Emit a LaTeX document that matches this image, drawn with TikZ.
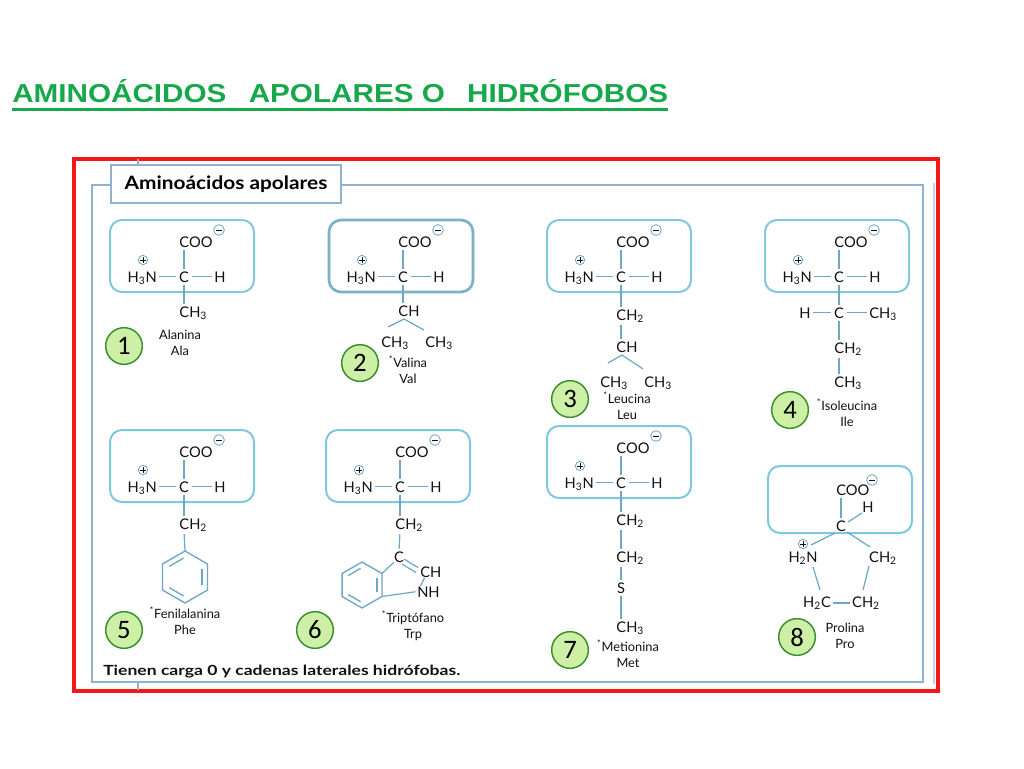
\documentclass[tikz,border=0pt]{standalone}
\usepackage{fontspec}
\setmainfont{Lato}
\newfontfamily\titlefont{Liberation Sans}
\newfontfamily\numfont{Carlito}
\definecolor{redf}{HTML}{F21818}
\definecolor{framec}{HTML}{8EB2D0}
\definecolor{boxc}{HTML}{80C8DF}
\definecolor{bondc}{HTML}{6EA6C6}
\definecolor{txt}{HTML}{111111}
\definecolor{titlec}{HTML}{17A84B}
\definecolor{numfill}{HTML}{CDEFA6}
\definecolor{numdraw}{HTML}{3A8F2E}
\tikzset{
  chem/.style={inner sep=0pt, text=txt, font=\fontsize{11}{12}\selectfont},
  bond/.style={draw=bondc, line width=0.9pt, shorten <=1.8pt, shorten >=1.8pt},
  bondx/.style={draw=bondc, line width=0.9pt},
  ring/.style={draw=bondc, line width=1pt, line join=round},
  ringin/.style={draw=bondc, line width=1pt, shorten <=1.2pt, shorten >=1.2pt},
  aabox/.style={draw=boxc, line width=1.5pt, rounded corners=9pt},
  numc/.style={circle, draw=numdraw, fill=numfill, line width=1.1pt, minimum size=27.5pt, inner sep=0pt, font=\numfont\fontsize{20}{20}\selectfont, text=black},
  aaname/.style={anchor=base, inner sep=0pt, text=txt, font=\fontsize{9.6}{11}\selectfont},
  chgm/.style={circle, draw=bondc, line width=0.6pt, minimum size=8pt, inner sep=0pt,
    path picture={\draw[txt, line width=0.6pt] ([xshift=1.8pt]path picture bounding box.west) -- ([xshift=-1.8pt]path picture bounding box.east);}},
  chgp/.style={circle, draw=bondc, line width=0.6pt, minimum size=7pt, inner sep=0pt,
    path picture={\draw[txt, line width=0.6pt] ([xshift=1.6pt]path picture bounding box.west) -- ([xshift=-1.6pt]path picture bounding box.east);
                  \draw[txt, line width=0.6pt] ([yshift=-1.6pt]path picture bounding box.north) -- ([yshift=1.6pt]path picture bounding box.south);}},
}
% core of an amino acid: #1 = name prefix, #2 = extra box style
\newcommand\aacore[2]{%
  \draw[aabox,#2] (-74,-57) rectangle (70,15);
  \node[chem, anchor=base] (#1c) at (0,5) {C};
  \node[chem, anchor=base west] (#1coo) at (-4.8,-30) {COO};
  \node[chem, anchor=base east] (#1n) at (-27,5) {H\textsubscript{3}N};
  \node[chem, anchor=base] (#1h) at (36,5) {H};
  \node[chgm] (#1m) at (35,-47) {};
  \node[chgp] (#1p) at (-41,-17) {};
  \draw[bond] (#1c.west -| #1n.east) -- (#1c.west);
  \draw[bond] (#1c.east) -- (#1c.east -| #1h.west);
  \draw[bond] (#1c.north) -- (#1c.north |- #1coo.south);
}
% benzene ring: centre x, centre y, radius
\newcommand\benzring[3]{%
  \begin{scope}[shift={(#1,#2)}]
    \draw[ring] (30:#3) -- (90:#3) -- (150:#3) -- (210:#3) -- (270:#3) -- (330:#3) -- cycle;
    \draw[ringin] (30:0.76*#3) -- (330:0.76*#3);
    \draw[ringin] (270:0.76*#3) -- (210:0.76*#3);
    \draw[ringin] (90:0.76*#3) -- (150:0.76*#3);
  \end{scope}
}
\begin{document}
\begin{tikzpicture}[x=0.75pt,y=-0.75pt]
\useasboundingbox (0,0) rectangle (1024,768);
\fill[white] (0,0) rectangle (1024,768);

% title
\node[anchor=base west, inner sep=0pt, text=titlec] (title) at (12,102)
  {\resizebox{492pt}{\height}{\titlefont\fontsize{19.5}{22}\selectfont\bfseries AMINOÁCIDOS\hspace{0.75em}APOLARES O\hspace{0.75em}HIDRÓFOBOS}};
\draw[titlec, line width=1.6pt] (title.base west) ++(0,7.5) coordinate (ulA) -- (668,109.5) coordinate (ulB);

% frames
\draw[redf, line width=3pt] (74,159) rectangle (938,691);
\draw[framec, line width=1.8pt] (92,185) rectangle (923,682);
\draw[framec!55, line width=1pt] (934,183) -- (934,684);
\draw[framec, line width=1.1pt] (138,159) -- (138,166);
\draw[framec, line width=1.1pt] (138,682) -- (138,690);
\node[draw=framec, fill=white, line width=1.8pt, minimum width=172.5pt, minimum height=28.5pt, inner sep=0pt, text=black] (hdr) at (226,184)
  {\resizebox{152pt}{\height}{\fontsize{13.8}{16}\selectfont\bfseries Aminoácidos apolares}};

% footer
\node[anchor=base west, inner sep=0pt, text=txt] (foot) at (103,675)
  {\resizebox{267.75pt}{\height}{\fontsize{10.5}{12}\selectfont\bfseries Tienen carga 0 y cadenas laterales hidrófobas.}};

% 1 Alanina
\begin{scope}[shift={(184,277)}]
  \aacore{a}{}
  \node[chem, anchor=base west] (ach3) at (-4.8,40) {CH\textsubscript{3}};
  \draw[bond] (ac.south) -- (ac.south |- ach3.north);
\end{scope}
\node[numc] (num1) at (124,346) {1};
\node[aaname] (n1a) at (180,339.5) {Alanina};
\node[aaname] (n1b) at (180,355) {Ala};

% 2 Valina
\begin{scope}[shift={(403,277)}]
  \aacore{v}{line width=2pt, draw=boxc!85!black!90}
  \node[chem, anchor=base west] (vch) at (-4.8,39) {CH};
  \draw[bond] (vc.south) -- (vc.south |- vch.north);
  \node[chem, anchor=base west] (vm1) at (-22,70) {CH\textsubscript{3}};
  \node[chem, anchor=base west] (vm2) at (22,70) {CH\textsubscript{3}};
  \coordinate (vap) at (1,42);
  \draw[bondx] (vap) -- (-15,50);
  \draw[bondx] (vap) -- (21,53);
\end{scope}
\node[numc] (num2) at (360,363) {2};
\node[aaname] (n2a) at (408,367.5) {\textsuperscript{*}Valina};
\node[aaname] (n2b) at (408,383) {Val};

% 3 Leucina
\begin{scope}[shift={(621,277)}]
  \aacore{l}{}
  \node[chem, anchor=base west] (lch2) at (-4.8,43) {CH\textsubscript{2}};
  \draw[bond] (lc.south) -- (lc.south |- lch2.north);
  \node[chem, anchor=base west] (lch) at (-4.8,75) {CH};
  \draw[bond] (lch2.south -| lc.south) -- (lc.south |- lch.north);
  \node[chem, anchor=base west] (lm1) at (-21,110) {CH\textsubscript{3}};
  \node[chem, anchor=base west] (lm2) at (23,110) {CH\textsubscript{3}};
  \coordinate (lap) at (1,78);
  \draw[bondx] (lap) -- (-13,86);
  \draw[bondx] (lap) -- (22,92);
\end{scope}
\node[numc] (num3) at (570,399) {3};
\node[aaname] (n3a) at (627,403.5) {\textsuperscript{*}Leucina};
\node[aaname] (n3b) at (627,419) {Leu};

% 4 Isoleucina
\begin{scope}[shift={(839,277)}]
  \aacore{i}{}
  \node[chem, anchor=base] (ic2) at (0,41) {C};
  \node[chem, anchor=base] (ih2) at (-34,41) {H};
  \node[chem, anchor=base west] (im1) at (30,41) {CH\textsubscript{3}};
  \draw[bond] (ic.south) -- (ic2.north);
  \draw[bond] (ic2.west -| ih2.east) -- (ic2.west);
  \draw[bond] (ic2.east) -- (ic2.east -| im1.west);
  \node[chem, anchor=base west] (ich2) at (-4.8,76) {CH\textsubscript{2}};
  \draw[bond] (ic2.south) -- (ic2.south |- ich2.north);
  \node[chem, anchor=base west] (im2) at (-4.8,110) {CH\textsubscript{3}};
  \draw[bond] (ich2.south -| ic2.south) -- (ic2.south |- im2.north);
\end{scope}
\node[numc] (num4) at (790,410) {4};
\node[aaname] (n4a) at (847,410.5) {\textsuperscript{*}Isoleucina};
\node[aaname] (n4b) at (847,426) {Ile};

% 5 Fenilalanina
\begin{scope}[shift={(184,487)}]
  \aacore{f}{}
  \node[chem, anchor=base west] (fch2) at (-4.8,42) {CH\textsubscript{2}};
  \draw[bond] (fc.south) -- (fc.south |- fch2.north);
  \coordinate (ftop) at (1,64);
  \draw[bond, shorten >=0pt] (fch2.south -| fc.south) -- (ftop);
  \benzring{1}{90}{26}
\end{scope}
\node[numc] (num5) at (124,630) {5};
\node[aaname] (n5a) at (185,618.5) {\textsuperscript{*}Fenilalanina};
\node[aaname] (n5b) at (185,634) {Phe};

% 6 Triptofano
\begin{scope}[shift={(400,487)}]
  \aacore{t}{}
  \node[chem, anchor=base west] (tch2) at (-4.8,42) {CH\textsubscript{2}};
  \draw[bond] (tc.south) -- (tc.south |- tch2.north);
  \node[chem, anchor=base] (tc3) at (-1,75) {C};
  \draw[bond] (tch2.south -| tc.south) -- (tc3.north);
  \node[chem, anchor=base west] (tch) at (20,90) {CH};
  \node[chem, anchor=base west] (tnh) at (17,110) {NH};
  \draw[bondx] (4,72) -- (18,80.5);
  \draw[bondx] (2,77) -- (16,85.5);
  \draw[bondx] (24.5,91) -- (20.5,99);
  \benzring{-38}{98}{23}
  \coordinate (tur) at (-18.1,86.5);
  \coordinate (tlr) at (-18.1,109.5);
  \draw[bondx] (tc3.south west) -- (tur);
  \draw[bondx] (tlr) -- ([xshift=-1.2pt]tnh.west);
\end{scope}
\node[numc] (num6) at (315,630) {6};
\node[aaname] (n6a) at (413,622.5) {\textsuperscript{*}Triptófano};
\node[aaname] (n6b) at (413,638) {Trp};

% 7 Metionina
\begin{scope}[shift={(621,483)}]
  \aacore{m}{}
  \node[chem, anchor=base west] (mch2a) at (-4.8,42) {CH\textsubscript{2}};
  \node[chem, anchor=base west] (mch2b) at (-4.8,79) {CH\textsubscript{2}};
  \node[chem, anchor=base] (ms) at (0,110) {S};
  \node[chem, anchor=base west] (mch3) at (-4.8,149) {CH\textsubscript{3}};
  \draw[bond] (mc.south) -- (mc.south |- mch2a.north);
  \draw[bond] (mch2a.south -| mc.south) -- (mc.south |- mch2b.north);
  \draw[bond] (mch2b.south -| ms.north) -- (ms.north);
  \draw[bond] (ms.south) -- (ms.south |- mch3.north);
\end{scope}
\node[numc] (num7) at (570,650) {7};
\node[aaname] (n7a) at (628,651.5) {\textsuperscript{*}Metionina};
\node[aaname] (n7b) at (628,667) {Met};

% 8 Prolina
\draw[aabox] (768,466) rectangle (912,533);
\node[chem, anchor=base west] (pcoo) at (836,495) {COO};
\node[chgm] (pm) at (872,480) {};
\node[chem, anchor=base] (ph) at (868,512) {H};
\node[chem, anchor=base] (pc) at (841,531) {C};
\node[chgp] (pp) at (803,544) {};
\node[chem, anchor=base] (pn) at (803,562) {H\textsubscript{2}N};
\node[chem, anchor=base] (pch2a) at (883,562) {CH\textsubscript{2}};
\node[chem, anchor=base] (ph2c) at (817,607) {H\textsubscript{2}C};
\node[chem, anchor=base] (pch2b) at (866,607) {CH\textsubscript{2}};
\draw[bond] (pc.north) -- (pc.north |- pcoo.south);
\draw[bondx] (848,522) -- (862,513);
\draw[bondx] (835,533) -- (811,545);
\draw[bondx] (847,532) -- (870,547);
\draw[bondx] (813,567) -- (820,590);
\draw[bondx] (869,566) -- (863,590);
\draw[bond] (ph2c.east) -- (ph2c.east -| pch2b.west);
\node[numc] (num8) at (797,637) {8};
\node[aaname] (n8a) at (845,632.5) {Prolina};
\node[aaname] (n8b) at (845,648) {Pro};
\end{tikzpicture}
\end{document}
